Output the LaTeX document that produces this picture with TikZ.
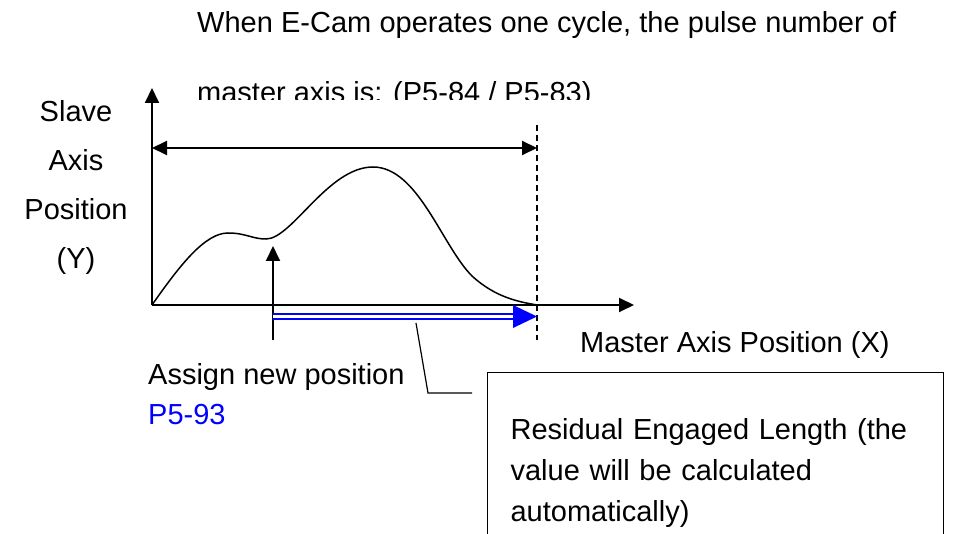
\documentclass[tikz,border=0pt]{standalone}
\usepackage{fontspec}
\setmainfont{Liberation Sans}
\usetikzlibrary{arrows.meta}
\definecolor{pblue}{RGB}{0,0,255}
\begin{document}
\begin{tikzpicture}[x=1pt, y=-1pt, >={Triangle[length=15pt,width=14pt]},
  every node/.style={font=\fontsize{29}{34}\selectfont, inner sep=0pt},
  axis/.style={line width=2pt},
  resline/.style={draw=pblue, double=white, double distance=3pt, line width=2pt}]
  \useasboundingbox (0,0) rectangle (959,534);

  % heading, the second line is cut off by its text frame
  \node[anchor=base west] (head) at (197,33) {\makebox[699pt][s]{When E-Cam operates one cycle, the pulse number of}};
  \begin{scope}
    \clip (0,0) rectangle (959,100);
    \node[anchor=base west] (head2) at (197,103) {master axis is: (P5-84 / P5-83)};
  \end{scope}

  \coordinate (O) at (152,305);
  \coordinate (Ytip) at (152,88);
  \coordinate (Xtip) at (634,305);
  \coordinate (E) at (537,305);

  \draw[->, axis] (O) -- (Ytip);
  \draw[->, axis] (O) -- (Xtip);
  \draw[<->, axis] (152,148) -- (537,148);
  \draw[line width=1.2pt, dash pattern=on 6pt off 4pt] (537,125) -- (537,340);

  % cam curve
  \draw[line width=1.5pt] (O) .. controls (180,265) and (205,233) .. (228,233)
    .. controls (246,233) and (252,239) .. (266,239)
    .. controls (292,239) and (328,167) .. (373,167)
    .. controls (418,167) and (442,246) .. (472,276)
    .. controls (496,298) and (520,302) .. (E);

  % new position arrow
  \coordinate (A0) at (273,340);
  \coordinate (A1) at (273,246);
  \draw[->, axis] (A0) -- (A1);

  % residual length
  \coordinate (S) at (273,316.5);
  \coordinate (T) at (537,316.5);
  \draw[resline] (S) -- ([xshift=-22pt]T);
  \fill[pblue] (T) -- ++(-24,-11.5) -- ++(0,23) -- cycle;

  \node[anchor=base] (sl1) at (76,122) {Slave};
  \node[anchor=base] (sl2) at (76,171) {Axis};
  \node[anchor=base] (sl3) at (76,220) {Position};
  \node[anchor=base] (sl4) at (76,269) {(Y)};

  \node[anchor=base west] (mst) at (580,353) {Master Axis Position (X)};
  \node[anchor=base west] (asg) at (148,385) {Assign new position};
  \node[anchor=base west, text=pblue] (p593) at (148,425) {P5-93};

  \node[draw, line width=1.2pt, anchor=north west, align=left, text width=410pt,
    inner xsep=23pt, inner ysep=46pt,
    font=\fontsize{29}{41}\selectfont] (res) at (487,372)
    {Residual Engaged Length (the\\value will be calculated\\automatically)};

  \coordinate (L0) at (416,323);
  \coordinate (L1) at (428,393);
  \coordinate (L2) at (472,393);
  \draw[line width=1.2pt] (L0) -- (L1) -- (L2);
\end{tikzpicture}
\end{document}
